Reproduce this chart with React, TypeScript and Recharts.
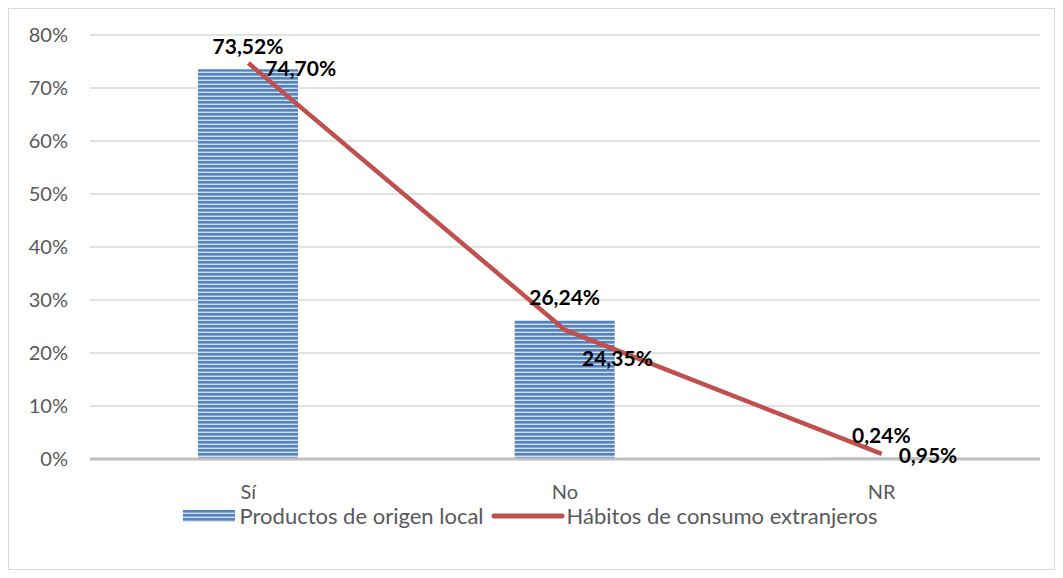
import {
  ComposedChart,
  Bar,
  Line,
  XAxis,
  YAxis,
  CartesianGrid,
  Legend,
  LabelList,
} from "recharts";

const categories = ["Sí", "No", "NR"];
const localProducts = [73.52, 26.24, 0.24];
const foreignHabits = [74.7, 24.35, 0.95];
const yTicks = [0, 10, 20, 30, 40, 50, 60, 70, 80];

// line labels sit to the right of each point; the middle one is pushed down a bit
const lineLabelDy = [4, 28, 1];

const BAR_NAME = "Productos de origen local";
const LINE_NAME = "Hábitos de consumo extranjeros";
const FONT = "Lato, 'Open Sans', sans-serif";

const data = categories.map((c, i) => ({
  name: c,
  local: localProducts[i],
  foreign: foreignHabits[i],
}));

const fmt = (v: number) => v.toFixed(2).replace(".", ",") + "%";

const LineValueLabel = (props: any) => {
  const { x, y, value, index } = props;
  return (
    <text
      x={x + 17}
      y={y + lineLabelDy[index]}
      dominantBaseline="central"
      fontFamily={FONT}
      fontWeight={700}
      fontSize={21}
      fill="#000"
    >
      {fmt(value)}
    </text>
  );
};

const LegendContent = () => (
  <div
    style={{
      height: 24,
      lineHeight: "24px",
      display: "flex",
      justifyContent: "center",
      alignItems: "center",
      fontFamily: FONT,
      fontSize: 22,
      color: "#595959",
      paddingRight: 10,
    }}
  >
    <span style={{ display: "flex", alignItems: "center" }}>
      <svg width={52} height={12} style={{ marginRight: 5 }}>
        <rect width={52} height={12} fill="url(#stripes)" />
      </svg>
      {BAR_NAME}
    </span>
    <span style={{ display: "flex", alignItems: "center", marginLeft: 7 }}>
      <svg width={74} height={12} style={{ marginRight: 2 }}>
        <line x1={3} y1={6} x2={71} y2={6} stroke="#c0504d" strokeWidth={5} strokeLinecap="round" />
      </svg>
      {LINE_NAME}
    </span>
  </div>
);

export default function App() {
  return (
    <div
      style={{
        width: 1045,
        height: 560,
        border: "1px solid #d9d9d9",
        background: "#fff",
      }}
    >
      <ComposedChart
        width={1045}
        height={560}
        data={data}
        margin={{ top: 26, right: 14, left: 21, bottom: 41 }}
      >
        <defs>
          <pattern id="stripes" patternUnits="userSpaceOnUse" width={4} height={4}>
            <rect width={4} height={4} fill="#d3e0f0" />
            <rect width={4} height={2.6} fill="#5382c2" />
          </pattern>
        </defs>
        <CartesianGrid vertical={false} stroke="#d9d9d9" strokeWidth={1.3} />
        <XAxis
          dataKey="name"
          height={45}
          tickLine={false}
          tickSize={0}
          tickMargin={26}
          axisLine={{ stroke: "#bfbfbf", strokeWidth: 3 }}
          tick={{ fill: "#595959", fontSize: 20, fontFamily: FONT }}
        />
        <YAxis
          width={60}
          domain={[0, 80]}
          ticks={yTicks}
          axisLine={false}
          tickLine={false}
          tickSize={0}
          tickMargin={22}
          tickFormatter={(v: number) => `${v}%`}
          tick={{ fill: "#595959", fontSize: 20, fontFamily: FONT }}
        />
        <Legend verticalAlign="bottom" content={<LegendContent />} />
        <Bar
          dataKey="local"
          name={BAR_NAME}
          barSize={100}
          fill="url(#stripes)"
          isAnimationActive={false}
        >
          <LabelList
            dataKey="local"
            position="top"
            offset={15}
            formatter={(v: any) => fmt(Number(v))}
            style={{ fontFamily: FONT, fontWeight: 700, fontSize: 21, fill: "#000" }}
          />
        </Bar>
        <Line
          dataKey="foreign"
          name={LINE_NAME}
          type="linear"
          stroke="#c0504d"
          strokeWidth={4.5}
          dot={false}
          activeDot={false}
          isAnimationActive={false}
        >
          <LabelList dataKey="foreign" content={<LineValueLabel />} />
        </Line>
      </ComposedChart>
    </div>
  );
}
